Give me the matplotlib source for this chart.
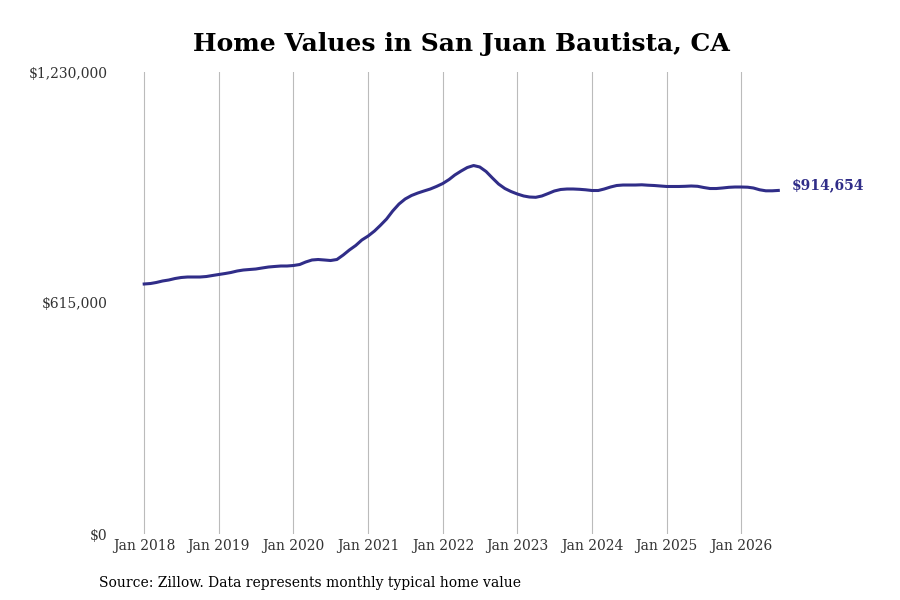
import matplotlib
matplotlib.use('Agg')
import matplotlib.pyplot as plt
import pandas as pd

plt.rcParams['font.family'] = 'DejaVu Serif'

# monthly typical home value, Jan 2018 .. Jul 2026
values = [
    665600, 666900, 669600, 673600, 676200, 680200, 682900, 684200, 684200, 684200, 685500, 688200,
    690900, 693500, 696200, 700200, 702800, 704200, 705500, 708200, 710800, 712200, 713500, 713500,
    714800, 717500, 724100, 729500, 730800, 729500, 728100, 730800, 742800, 756100, 768100, 782700,
    793400, 806700, 821300, 838600, 859900, 878600, 891900, 901200, 907800, 913200, 918500, 925200,
    933100, 943800, 955800, 966400, 975700, 981000, 977100, 965100, 947800, 931800, 919800, 911800,
    905200, 899900, 897200, 896400, 899900, 906500, 913200, 917200, 918500, 918500, 917700, 916400,
    914500, 914500, 918500, 923800, 927800, 929100, 929100, 929100, 929700, 928600, 927800, 926500,
    925200, 925200, 925200, 925700, 926500, 925700, 922500, 919800, 919800, 921200, 923000, 923800,
    923800, 923300, 921200, 916400, 913700, 913700, 914654,
]
dates = pd.date_range('2018-01-01', periods=len(values), freq='MS')

y_ticks = [0, 615000, 1230000]
y_labels = ['$0', '$615,000', '$1,230,000']
x_years = list(range(2018, 2027))

line_color = '#302d88'

fig, ax = plt.subplots(figsize=(9, 6), dpi=100)
ax.plot(dates, values, color=line_color, linewidth=2.2)

ax.set_ylim(0, 1230000)
ax.set_yticks(y_ticks)
ax.set_yticklabels(y_labels)
ax.set_xticks([pd.Timestamp(f'{y}-01-01') for y in x_years])
ax.set_xticklabels([f'Jan {y}' for y in x_years])
ax.tick_params(axis='both', length=0, labelsize=10, labelcolor='#333333')
ax.tick_params(axis='y', pad=3.5)
ax.tick_params(axis='x', pad=3.5)

ax.grid(axis='x', color='#bbbbbb', linewidth=0.8)
ax.set_axisbelow(True)
for s in ax.spines.values():
    s.set_visible(False)

ax.annotate(f'${values[-1]:,}', xy=(dates[-1], values[-1]), xytext=(10, 3.5),
            textcoords='offset points', va='center', ha='left',
            fontsize=10, fontweight='bold', color=line_color)

ax.set_title('Home Values in San Juan Bautista, CA', fontsize=18, fontweight='bold', pad=15)
fig.text(0.11, 0.022, 'Source: Zillow. Data represents monthly typical home value', fontsize=10)

plt.savefig('out.png')
